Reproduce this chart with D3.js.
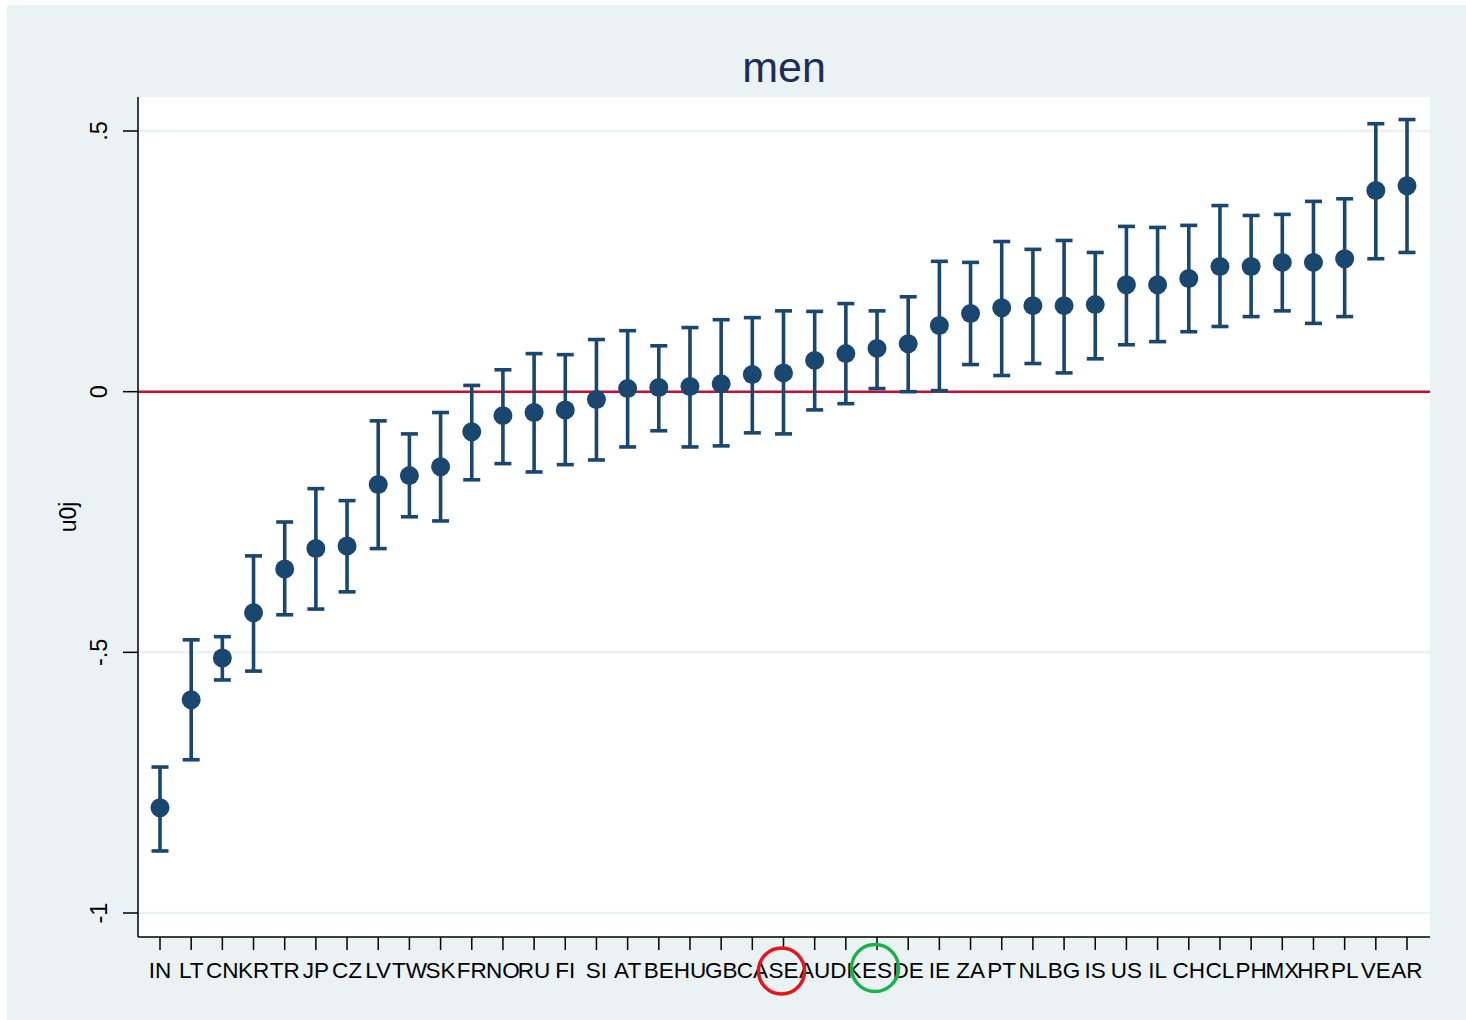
<!DOCTYPE html>
<html>
<head>
<meta charset="utf-8">
<script src="https://cdn.jsdelivr.net/npm/d3@7"></script>
<style>
  html, body { margin: 0; padding: 0; background: #ffffff; }
  svg { display: block; }
  text { font-family: "Liberation Sans", Arial, Helvetica, sans-serif; }
</style>
</head>
<body>
<script>
const countries = ["IN","LT","CN","KR","TR","JP","CZ","LV","TW","SK","FR","NO","RU","FI","SI","AT","BE","HU","GB","CA","SE","AU","DK","ES","DE","IE","ZA","PT","NL","BG","IS","US","IL","CH","CL","PH","MX","HR","PL","VE","AR"];
const estimate = [-0.798,-0.591,-0.511,-0.424,-0.340,-0.301,-0.296,-0.178,-0.161,-0.144,-0.077,-0.046,-0.040,-0.035,-0.015,0.006,0.008,0.010,0.015,0.033,0.036,0.060,0.073,0.083,0.092,0.127,0.150,0.161,0.165,0.165,0.167,0.205,0.205,0.217,0.240,0.240,0.248,0.248,0.255,0.386,0.395];
const lower = [-0.881,-0.706,-0.553,-0.536,-0.428,-0.417,-0.384,-0.301,-0.240,-0.248,-0.169,-0.138,-0.154,-0.140,-0.131,-0.106,-0.075,-0.106,-0.104,-0.079,-0.081,-0.035,-0.023,0.006,0.000,0.002,0.052,0.031,0.054,0.036,0.063,0.090,0.096,0.115,0.125,0.144,0.155,0.131,0.144,0.255,0.267];
const upper = [-0.720,-0.476,-0.470,-0.315,-0.250,-0.186,-0.209,-0.056,-0.081,-0.040,0.012,0.042,0.073,0.071,0.100,0.117,0.088,0.123,0.138,0.142,0.155,0.154,0.169,0.155,0.182,0.250,0.248,0.288,0.273,0.290,0.267,0.317,0.315,0.319,0.357,0.338,0.340,0.365,0.370,0.514,0.522];
const yTicks = [-1, -0.5, 0, 0.5];
const yTickLabels = ["-1", "-.5", "0", ".5"];
const highlighted = ["SE", "ES"];
const highlightColors = ["#e8141c", "#17b24a"];
const title = "men";
const yTitle = "u0j";

const W = 1466, H = 1020;
const plot = {left: 138, right: 1430, top: 97, bottom: 937};

const svg = d3.select("body").append("svg").attr("width", W).attr("height", H);

// outer background
svg.append("rect").attr("x", 0).attr("y", 0).attr("width", W).attr("height", H).attr("fill", "#ffffff");
svg.append("rect").attr("x", 7).attr("y", 5).attr("width", W - 7).attr("height", H - 5).attr("fill", "#eaf2f3");
// plot region
svg.append("rect").attr("x", plot.left).attr("y", plot.top)
  .attr("width", plot.right - plot.left).attr("height", plot.bottom - plot.top).attr("fill", "#ffffff");

const x = d3.scalePoint().domain(countries).range([160, 1407]);
const y = d3.scaleLinear().domain([-1, 0.5]).range([913, 131]);

// gridlines
svg.append("g").selectAll("line").data(yTicks).join("line")
  .attr("x1", plot.left).attr("x2", plot.right)
  .attr("y1", d => y(d)).attr("y2", d => y(d))
  .attr("stroke", "#eaf2f3").attr("stroke-width", 2.5);

// zero reference line
svg.append("line").attr("x1", plot.left).attr("x2", plot.right)
  .attr("y1", y(0)).attr("y2", y(0))
  .attr("stroke", "#c8102e").attr("stroke-width", 2.5);

const navy = "#1a476f";
const data = countries.map((c, i) => ({c, est: estimate[i], lo: lower[i], hi: upper[i]}));

const g = svg.append("g");
const capW = 8.5;
g.selectAll("line.v").data(data).join("line").attr("class", "v")
  .attr("x1", d => x(d.c)).attr("x2", d => x(d.c))
  .attr("y1", d => y(d.lo)).attr("y2", d => y(d.hi))
  .attr("stroke", navy).attr("stroke-width", 3.6);
g.selectAll("line.capHi").data(data).join("line").attr("class", "capHi")
  .attr("x1", d => x(d.c) - capW).attr("x2", d => x(d.c) + capW)
  .attr("y1", d => y(d.hi)).attr("y2", d => y(d.hi))
  .attr("stroke", navy).attr("stroke-width", 3.6);
g.selectAll("line.capLo").data(data).join("line").attr("class", "capLo")
  .attr("x1", d => x(d.c) - capW).attr("x2", d => x(d.c) + capW)
  .attr("y1", d => y(d.lo)).attr("y2", d => y(d.lo))
  .attr("stroke", navy).attr("stroke-width", 3.6);
g.selectAll("circle").data(data).join("circle")
  .attr("cx", d => x(d.c)).attr("cy", d => y(d.est)).attr("r", 9.5)
  .attr("fill", navy);

// y axis
const yAxis = svg.append("g");
yAxis.append("line").attr("x1", plot.left).attr("x2", plot.left)
  .attr("y1", plot.top).attr("y2", plot.bottom).attr("stroke", "#000").attr("stroke-width", 1.5);
yAxis.selectAll("line.t").data(yTicks).join("line").attr("class", "t")
  .attr("x1", plot.left - 15).attr("x2", plot.left)
  .attr("y1", d => y(d)).attr("y2", d => y(d)).attr("stroke", "#000").attr("stroke-width", 1.5);
yAxis.selectAll("text").data(yTicks).join("text")
  .attr("transform", d => `translate(107,${y(d)}) rotate(-90)`)
  .attr("text-anchor", "middle").attr("font-size", 23.5).attr("fill", "#000")
  .text((d, i) => yTickLabels[i]);

// x axis
const xAxis = svg.append("g");
xAxis.append("line").attr("x1", plot.left).attr("x2", plot.right)
  .attr("y1", plot.bottom).attr("y2", plot.bottom).attr("stroke", "#000").attr("stroke-width", 1.5);
xAxis.selectAll("line.t").data(countries).join("line").attr("class", "t")
  .attr("x1", d => x(d)).attr("x2", d => x(d))
  .attr("y1", plot.bottom).attr("y2", plot.bottom + 13).attr("stroke", "#000").attr("stroke-width", 1.5);
xAxis.selectAll("text").data(countries).join("text")
  .attr("x", d => x(d)).attr("y", 978)
  .attr("text-anchor", "middle").attr("font-size", 22.5).attr("fill", "#000")
  .text(d => d);

// highlight circles around selected labels
svg.append("g").selectAll("circle").data(highlighted).join("circle")
  .attr("cx", d => x(d) - 2 + (d === "ES" ? 0 : 0))
  .attr("cy", (d, i) => i === 0 ? 971 : 968)
  .attr("r", (d, i) => i === 0 ? 23 : 23.5)
  .attr("fill", "none")
  .attr("stroke", (d, i) => highlightColors[i])
  .attr("stroke-width", 3.5);

// axis title
svg.append("text").attr("transform", `translate(76,517) rotate(-90)`)
  .attr("text-anchor", "middle").attr("font-size", 23).attr("fill", "#000").text(yTitle);

// chart title
svg.append("text").attr("x", 784).attr("y", 82).attr("text-anchor", "middle")
  .attr("font-size", 43).attr("fill", "#1f2d56").text(title);
</script>
</body>
</html>
